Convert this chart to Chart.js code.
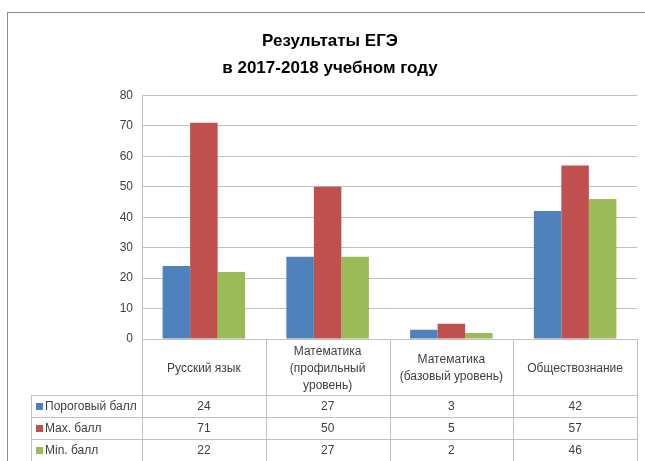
<!DOCTYPE html>
<html><head><meta charset="utf-8">
<script src="https://cdn.jsdelivr.net/npm/chart.js@4"></script>
<style>html,body{margin:0;padding:0;background:#fff;overflow:hidden}</style>
</head><body>
<canvas id="c" width="645" height="461"></canvas>
<script>
const titleLines = ["Результаты ЕГЭ", "в 2017-2018 учебном году"];
const categories = [["Русский язык"], ["Математика", "(профильный", "уровень)"], ["Математика", "(базовый уровень)"], ["Обществознание"]];
const seriesNames = ["Пороговый балл", "Max. балл", "Min. балл"];
const thresholdScores = [24, 27, 3, 42];
const maxScores = [71, 50, 5, 57];
const minScores = [22, 27, 2, 46];
const yMin = 0, yMax = 80, yStep = 10;

const seriesValues = [thresholdScores, maxScores, minScores];
const seriesColors = ["#4F81BD", "#C0504D", "#9BBB59"];
const FONT = '"Liberation Sans", Arial, sans-serif';
const TEXT = "#404040";
const LINE = "#c0c0c0";
const PAD_LEFT = 23;

const tablePlugin = {
  id: "dataTable",
  afterDraw(chart) {
    const ctx = chart.ctx;
    const ca = chart.chartArea;
    const xs = chart.scales.x;
    const step = xs.getPixelForValue(1) - xs.getPixelForValue(0);
    const catTop = ca.bottom, catBottom = 395;
    const rowH = 22;
    const legendLeft = 31;
    ctx.save();
    ctx.strokeStyle = "#8c8c8c";
    ctx.lineWidth = 1;
    ctx.strokeRect(7.5, 12.5, 700, 600);
    ctx.strokeStyle = LINE;
    ctx.beginPath();
    for (let i = 0; i <= categories.length; i++) {
      const x = Math.round(xs.getPixelForValue(0) - step / 2 + i * step) + 0.5;
      ctx.moveTo(x, catTop); ctx.lineTo(x, 470);
    }
    ctx.moveTo(legendLeft + 0.5, catBottom); ctx.lineTo(legendLeft + 0.5, 470);
    for (let r = 0; r <= seriesNames.length; r++) {
      const y = Math.round(catBottom + r * rowH) + 0.5;
      ctx.moveTo(legendLeft, y); ctx.lineTo(ca.right + 1, y);
    }
    ctx.stroke();
    ctx.fillStyle = TEXT;
    ctx.font = "12px " + FONT;
    ctx.textAlign = "center";
    ctx.textBaseline = "middle";
    const lh = 17;
    categories.forEach((lines, i) => {
      const cx = xs.getPixelForValue(i);
      const cy = (catTop + catBottom) / 2 + 1.5;
      lines.forEach((t, k) => {
        ctx.fillText(t, cx, cy + (k - (lines.length - 1) / 2) * lh);
      });
    });
    seriesNames.forEach((name, r) => {
      const cy = catBottom + r * rowH + rowH / 2 + 1;
      ctx.fillStyle = seriesColors[r];
      ctx.fillRect(36, cy - 4, 7, 7);
      ctx.fillStyle = TEXT;
      ctx.textAlign = "left";
      ctx.fillText(name, 45, cy);
      ctx.textAlign = "center";
      seriesValues[r].forEach((v, i) => {
        ctx.fillText(String(v), xs.getPixelForValue(i), cy);
      });
    });
    ctx.restore();
  }
};

new Chart(document.getElementById("c"), {
  type: "bar",
  data: {
    labels: categories.map(l => l.join(" ")),
    datasets: seriesNames.map((n, i) => ({
      label: n,
      data: seriesValues[i],
      backgroundColor: seriesColors[i],
      borderWidth: 0,
      barPercentage: 1,
      categoryPercentage: 0.667
    }))
  },
  options: {
    responsive: false,
    animation: false,
    layout: { padding: { left: PAD_LEFT, right: 8, top: 10, bottom: 122 } },
    plugins: {
      legend: { display: false },
      tooltip: { enabled: false },
      title: {
        display: true,
        text: titleLines,
        color: "#000",
        font: { family: FONT, size: 17, weight: "bold", lineHeight: 1.6 },
        padding: { top: 18, bottom: 13 }
      }
    },
    scales: {
      x: { display: false },
      y: {
        min: yMin, max: yMax,
        ticks: { stepSize: yStep, color: TEXT, font: { family: FONT, size: 12 }, padding: 9 },
        grid: { color: LINE, drawTicks: false },
        border: { color: LINE },
        afterFit(s) { s.width = 142 - PAD_LEFT; }
      }
    }
  },
  plugins: [tablePlugin]
});
</script>
</body></html>
